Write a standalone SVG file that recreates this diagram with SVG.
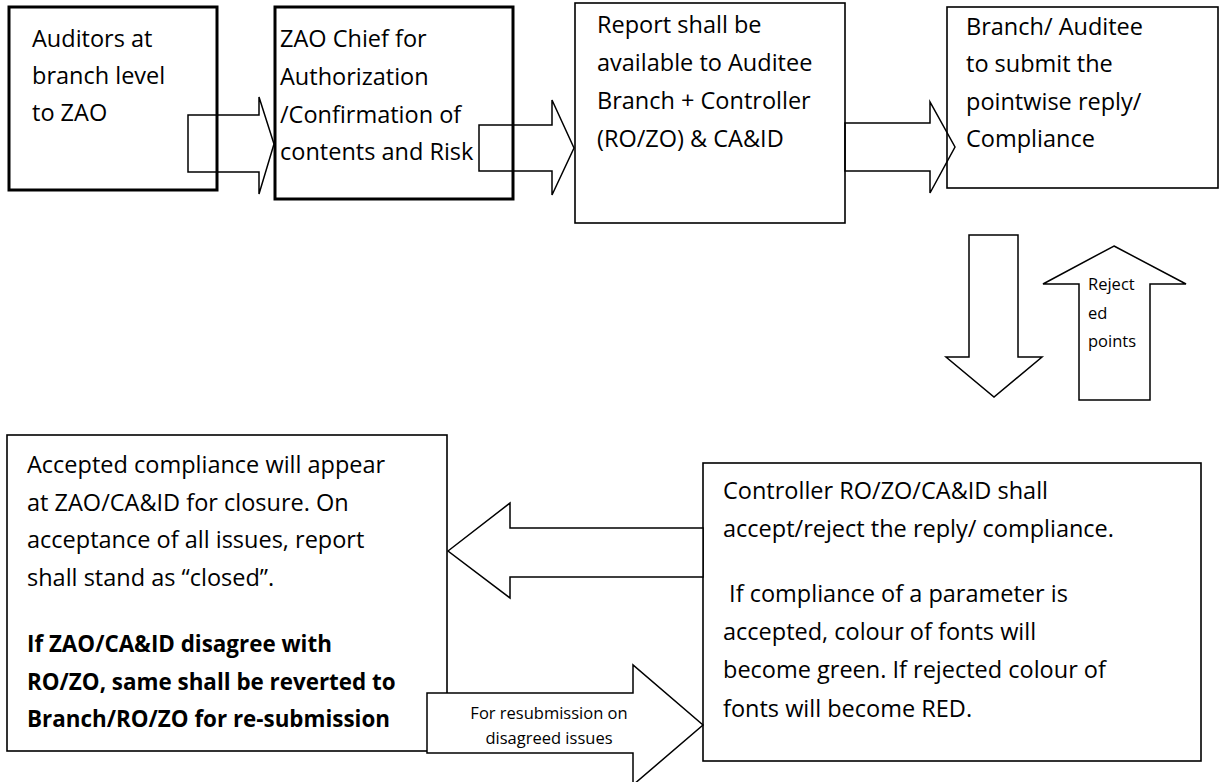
<svg xmlns="http://www.w3.org/2000/svg" width="1221" height="782" viewBox="0 0 1221 782">
<style>
  .t { font-family: "Open Sans", "Liberation Sans", sans-serif; font-size: 23.5px; fill: #000; }
  .b { font-weight: bold; font-size: 22.4px; }
  .s { font-family: "Open Sans", "Liberation Sans", sans-serif; font-size: 16.5px; fill: #000; }
  .thick { fill: none; stroke: #000; stroke-width: 3; }
  .thin { fill: #fff; stroke: #000; stroke-width: 1.6; }
  .arr { fill: none; stroke: #000; stroke-width: 1.5; stroke-linejoin: miter; }
  .arrw { fill: #fff; stroke: #000; stroke-width: 1.5; stroke-linejoin: miter; }
</style>
<rect x="0" y="0" width="1221" height="782" fill="#fff"/>
<g id="nodes">
  <g id="auditors">
    <rect class="thick" x="9" y="7" width="208" height="183"/>
    <text class="t" x="32" y="47">Auditors at</text>
    <text class="t" x="32" y="84">branch level</text>
    <text class="t" x="32" y="121">to ZAO</text>
  </g>
  <g id="zao-chief">
    <rect class="thick" x="275" y="7" width="238" height="192"/>
    <text class="t" x="280" y="47">ZAO Chief for</text>
    <text class="t" x="280" y="85">Authorization</text>
    <text class="t" x="280" y="122.5">/Confirmation of</text>
    <text class="t" x="280" y="160">contents and Risk</text>
  </g>
  <g id="report">
    <rect class="thin" x="575" y="3" width="270" height="220"/>
    <text class="t" x="597" y="33">Report shall be</text>
    <text class="t" x="597" y="71">available to Auditee</text>
    <text class="t" x="597" y="109">Branch + Controller</text>
    <text class="t" x="597" y="147">(RO/ZO) &amp; CA&amp;ID</text>
  </g>
  <g id="branch-auditee">
    <rect class="thin" x="947" y="7" width="271" height="181"/>
    <text class="t" x="966" y="35">Branch/ Auditee</text>
    <text class="t" x="966" y="72">to submit the</text>
    <text class="t" x="966" y="110">pointwise reply/</text>
    <text class="t" x="966" y="147">Compliance</text>
  </g>
  <g id="closure">
    <rect class="thin" x="7" y="435" width="440" height="316"/>
    <text class="t" x="27" y="473">Accepted compliance will appear</text>
    <text class="t" x="27" y="511">at ZAO/CA&amp;ID for closure. On</text>
    <text class="t" x="27" y="548">acceptance of all issues, report</text>
    <text class="t" x="27" y="586">shall stand as “closed”.</text>
    <text class="t b" x="27" y="652">If ZAO/CA&amp;ID disagree with</text>
    <text class="t b" x="27" y="690">RO/ZO, same shall be reverted to</text>
    <text class="t b" x="27" y="727">Branch/RO/ZO for re-submission</text>
  </g>
  <g id="controller">
    <rect class="thin" x="703" y="463" width="498" height="298"/>
    <text class="t" x="723" y="499">Controller RO/ZO/CA&amp;ID shall</text>
    <text class="t" x="723" y="537">accept/reject the reply/ compliance.</text>
    <text class="t" x="723" y="602" xml:space="preserve"> If compliance of a parameter is</text>
    <text class="t" x="723" y="640">accepted, colour of fonts will</text>
    <text class="t" x="723" y="678">become green. If rejected colour of</text>
    <text class="t" x="723" y="717">fonts will become RED.</text>
  </g>
</g>
<g id="connectors">
  <polygon class="arr" points="188,115 259,115 259,97 274,144 259,194 259,172 188,172"/>
  <polygon class="arr" points="479,125 552,125 552,100 574,148 552,195 552,171 479,171"/>
  <polygon class="arr" points="845,123 930,123 930,102 955,147 930,193 930,171 845,171"/>
  <polygon class="arrw" points="969,235 1018,235 1018,357 1042,357 994,397 946,357 969,357"/>
  <polygon class="arrw" points="1114,246 1186,284 1150,284 1150,400 1079,400 1079,284 1043,284"/>
  <text class="s" x="1088" y="290">Reject</text>
  <text class="s" x="1088" y="319">ed</text>
  <text class="s" x="1088" y="347">points</text>
  <polygon class="arrw" points="448,551 510,503 510,528 703,528 703,577 510,577 510,598"/>
  <polygon class="arrw" points="427,693 633,693 633,665 703,725 633,785 633,753 427,753"/>
  <text class="s" x="549" y="719" text-anchor="middle">For resubmission on</text>
  <text class="s" x="549" y="744" text-anchor="middle">disagreed issues</text>
</g>
</svg>
